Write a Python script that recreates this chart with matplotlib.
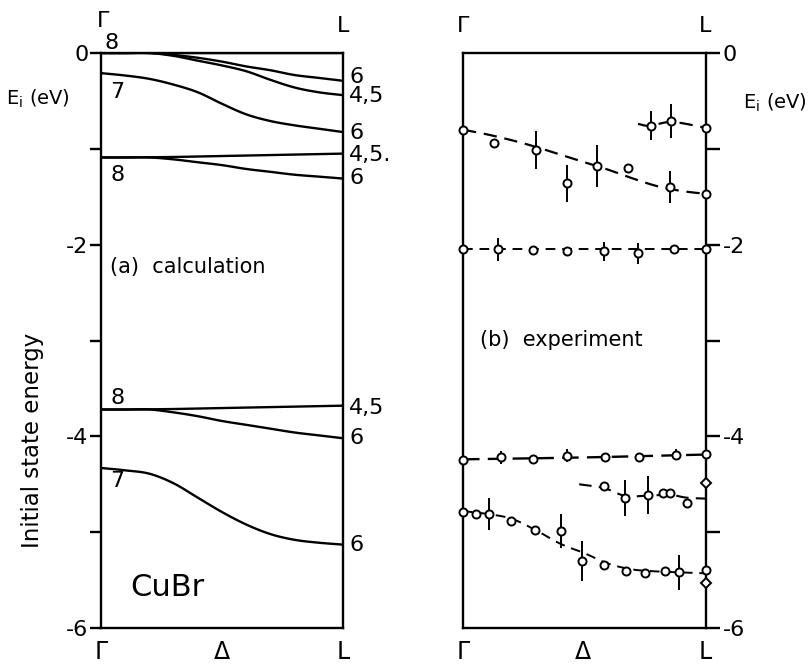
import matplotlib
matplotlib.use("Agg")
import matplotlib.pyplot as plt
import numpy as np

plt.rcParams['font.family'] = ['DejaVu Sans']
plt.rcParams['mathtext.fontset'] = 'dejavusans'

# ---------------- data ----------------
# (a) calculation: k along Gamma -> L (0..1), energies in eV
k_calc = [0.0, 0.1, 0.2, 0.3, 0.4, 0.5, 0.6, 0.7, 0.8, 0.9, 1.0]
band_top_flat = [0.0, 0.0, 0.0, 0.0, 0.0, 0.0, 0.0, 0.0, 0.0, 0.0, 0.0]
band_top_6 = [0.0, 0.0, 0.0, -0.02, -0.05, -0.09, -0.14, -0.18, -0.23, -0.26, -0.29]
band_top_45 = [0.0, 0.0, 0.0, -0.03, -0.08, -0.13, -0.19, -0.28, -0.36, -0.41, -0.44]
band_7_upper = [-0.21, -0.235, -0.27, -0.33, -0.41, -0.53, -0.64, -0.71, -0.755, -0.79, -0.825]
band_8b_45 = [-1.09, -1.09, -1.088, -1.085, -1.08, -1.075, -1.07, -1.065, -1.06, -1.055, -1.05]
band_8b_6 = [-1.09, -1.09, -1.09, -1.11, -1.14, -1.17, -1.21, -1.24, -1.27, -1.29, -1.31]
band_8c_45 = [-3.72, -3.72, -3.718, -3.715, -3.71, -3.705, -3.70, -3.695, -3.69, -3.685, -3.68]
band_8c_6 = [-3.72, -3.72, -3.72, -3.75, -3.79, -3.84, -3.88, -3.92, -3.96, -3.99, -4.02]
band_7_lower = [-4.33, -4.355, -4.39, -4.49, -4.64, -4.79, -4.92, -5.02, -5.08, -5.11, -5.13]
calc_bands = [band_top_flat, band_top_6, band_top_45, band_7_upper,
              band_8b_45, band_8b_6, band_8c_45, band_8c_6, band_7_lower]

# (b) experiment: measured points (k, E, vertical error)
s1_k = [0.774, 0.857, 1.0]
s1_E = [-0.76, -0.71, -0.78]
s1_err = [0.15, 0.18, 0.0]
s1_line_k = [0.72, 0.77, 0.86, 1.0]
s1_line_E = [-0.74, -0.76, -0.72, -0.78]

s2_k = [0.0, 0.129, 0.30, 0.43, 0.55, 0.68, 0.85, 1.0]
s2_E = [-0.80, -0.94, -1.01, -1.36, -1.18, -1.20, -1.40, -1.47]
s2_err = [0.0, 0.0, 0.20, 0.19, 0.22, 0.0, 0.17, 0.0]
s2_line_k = [0.0, 0.1, 0.2, 0.3, 0.4, 0.5, 0.6, 0.7, 0.8, 0.9, 1.0]
s2_line_E = [-0.80, -0.85, -0.91, -0.98, -1.06, -1.14, -1.22, -1.31, -1.39, -1.44, -1.47]

s3_k = [0.0, 0.145, 0.29, 0.43, 0.58, 0.72, 0.87, 1.0]
s3_E = [-2.05, -2.05, -2.06, -2.07, -2.07, -2.09, -2.05, -2.04]
s3_err = [0.0, 0.12, 0.0, 0.0, 0.10, 0.11, 0.0, 0.0]
s3_line_k = [0.0, 1.0]
s3_line_E = [-2.05, -2.05]

s4_k = [0.0, 0.158, 0.29, 0.426, 0.584, 0.725, 0.876, 1.0]
s4_E = [-4.25, -4.22, -4.235, -4.20, -4.22, -4.22, -4.19, -4.18]
s4_err = [0.0, 0.07, 0.0, 0.07, 0.0, 0.0, 0.06, 0.0]
s4_line_k = [0.0, 0.5, 1.0]
s4_line_E = [-4.24, -4.22, -4.19]

s5_k = [0.58, 0.666, 0.76, 0.825, 0.85, 0.92]
s5_E = [-4.52, -4.645, -4.61, -4.59, -4.59, -4.70]
s5_err = [0.0, 0.19, 0.20, 0.0, 0.0, 0.0]
s5_line_k = [0.478, 0.58, 0.666, 0.76, 0.85, 0.92, 1.0]
s5_line_E = [-4.50, -4.54, -4.62, -4.62, -4.61, -4.64, -4.65]

s6_k = [0.0, 0.055, 0.107, 0.196, 0.297, 0.405, 0.49, 0.58, 0.67, 0.75, 0.83, 0.89, 1.0]
s6_E = [-4.785, -4.81, -4.81, -4.88, -4.98, -4.99, -5.30, -5.34, -5.40, -5.43, -5.40, -5.42, -5.39]
s6_err = [0.0, 0.0, 0.17, 0.0, 0.0, 0.18, 0.21, 0.0, 0.0, 0.0, 0.0, 0.18, 0.0]
s6_line_k = [0.0, 0.1, 0.2, 0.3, 0.4, 0.5, 0.6, 0.7, 0.8, 0.9, 1.0]
s6_line_E = [-4.78, -4.81, -4.86, -4.98, -5.12, -5.22, -5.33, -5.39, -5.41, -5.42, -5.43]

diamond_k = [1.0, 1.0]
diamond_E = [-4.49, -5.53]

major_ticks = [0, -2, -4, -6]
major_labels = ['0', '-2', '-4', '-6']
minor_ticks = [-1, -3, -5]


def smooth(xs, ys, n=12):
    """Catmull-Rom rendering through the given points (drawing only)."""
    x = np.asarray(xs, float); y = np.asarray(ys, float)
    if len(x) < 3:
        return x, y
    px = np.concatenate([[2 * x[0] - x[1]], x, [2 * x[-1] - x[-2]]])
    py = np.concatenate([[2 * y[0] - y[1]], y, [2 * y[-1] - y[-2]]])
    ox, oy = [], []
    t = np.linspace(0, 1, n, endpoint=False)
    for i in range(1, len(px) - 2):
        for arr, out in ((px, ox), (py, oy)):
            p0, p1, p2, p3 = arr[i - 1], arr[i], arr[i + 1], arr[i + 2]
            out.extend(0.5 * ((2 * p1) + (-p0 + p2) * t +
                              (2 * p0 - 5 * p1 + 4 * p2 - p3) * t ** 2 +
                              (-p0 + 3 * p1 - 3 * p2 + p3) * t ** 3))
    ox.append(x[-1]); oy.append(y[-1])
    return np.array(ox), np.array(oy)


# ---------------- figure ----------------
W, H = 810, 664
fig = plt.figure(figsize=(W / 100, H / 100), dpi=100)

def ftxt(px, py, s, **kw):
    fig.text(px / W, 1 - py / H, s, **kw)

bottom = 1 - 628 / H
height = 575 / H
ax1 = fig.add_axes([101 / W, bottom, 242 / W, height])
ax2 = fig.add_axes([463 / W, bottom, 243 / W, height])

for ax in (ax1, ax2):
    ax.set_xlim(0, 1)
    ax.set_ylim(-6, 0)
    ax.set_xticks([])
    for sp in ax.spines.values():
        sp.set_linewidth(1.7)
    ax.set_yticks(major_ticks)
    ax.set_yticklabels(major_labels)
    ax.set_yticks(minor_ticks, minor=True)
    ax.tick_params(axis='y', which='both', direction='out', length=8, width=1.7,
                   labelsize=16, pad=1)

ax2.yaxis.tick_right()
ax2.tick_params(axis='y', which='both', length=10, pad=2)

# calculation bands
for band in calc_bands:
    sx, sy = smooth(k_calc, band)
    ax1.plot(sx, sy, color='black', lw=1.7, solid_capstyle='butt', clip_on=True)

# experiment
for lk, lE, lw, dsh in [(s1_line_k, s1_line_E, 1.6, (6, 3.5)), (s2_line_k, s2_line_E, 1.6, (6, 3.5)),
                        (s3_line_k, s3_line_E, 1.4, (5, 3.5)), (s4_line_k, s4_line_E, 1.7, (7, 3.5)),
                        (s5_line_k, s5_line_E, 1.5, (6, 3.5)), (s6_line_k, s6_line_E, 1.4, (5, 3.5))]:
    sx, sy = smooth(lk, lE)
    ax2.plot(sx, sy, color='black', lw=lw, linestyle=(0, dsh), clip_on=False)

for k, E, err in [(s1_k, s1_E, s1_err), (s2_k, s2_E, s2_err), (s3_k, s3_E, s3_err),
                  (s4_k, s4_E, s4_err), (s5_k, s5_E, s5_err), (s6_k, s6_E, s6_err)]:
    k = np.asarray(k); E = np.asarray(E); err = np.asarray(err)
    m = err > 0
    if m.any():
        ax2.errorbar(k[m], E[m], yerr=err[m], fmt='none', ecolor='black',
                     elinewidth=1.4, capsize=0, zorder=2, clip_on=False)
    ax2.plot(k, E, 'o', mfc='white', mec='black', ms=5.8, mew=1.4,
             zorder=4, clip_on=False)
ax2.plot(diamond_k, diamond_E, 'D', mfc='white', mec='black', ms=5.2, mew=1.4,
         zorder=4, clip_on=False)

# band labels (calculation)
lab_kw = dict(fontsize=16, ha='center', va='center')
ax1.text(0.045, 0.10, '8', **lab_kw)
ax1.text(0.068, -0.41, '7', **lab_kw)
ax1.text(0.068, -1.27, '8', **lab_kw)
ax1.text(0.068, -3.60, '8', **lab_kw)
ax1.text(0.068, -4.47, '7', **lab_kw)
rl_kw = dict(fontsize=16, ha='left', va='center', clip_on=False)
ax1.text(1.025, -0.25, '6', **rl_kw)
ax1.text(1.025, -0.45, '4,5', **rl_kw)
ax1.text(1.025, -0.83, '6', **rl_kw)
ax1.text(1.025, -1.06, '4,5.', **rl_kw)
ax1.text(1.025, -1.30, '6', **rl_kw)
ax1.text(1.025, -3.70, '4,5', **rl_kw)
ax1.text(1.025, -4.02, '6', **rl_kw)
ax1.text(1.025, -5.13, '6', **rl_kw)

ax1.text(0.037, -2.23, '(a)  calculation', fontsize=15, ha='left', va='center')
ax2.text(0.07, -2.99, '(b)  experiment', fontsize=15, ha='left', va='center')
ax1.text(0.12, -5.58, 'CuBr', fontsize=22, ha='left', va='center')

# symmetry point labels
sym_kw = dict(fontsize=16, ha='center', va='bottom')
ftxt(103, 31, 'Γ', **sym_kw)
ftxt(343, 36, 'L', **sym_kw)
ftxt(463, 36, 'Γ', **sym_kw)
ftxt(705, 36, 'L', **sym_kw)
bot_kw = dict(fontsize=17, ha='center', va='top')
ftxt(101, 640, 'Γ', **bot_kw)
ftxt(222, 640, 'Δ', **bot_kw)
ftxt(343, 640, 'L', **bot_kw)
ftxt(463, 640, 'Γ', **bot_kw)
ftxt(583, 640, 'Δ', **bot_kw)
ftxt(705, 640, 'L', **bot_kw)

ftxt(38, 99, 'E$_{\\mathregular{i}}$ (eV)', fontsize=14, ha='center', va='center')
ftxt(775, 103, 'E$_{\\mathregular{i}}$ (eV)', fontsize=14, ha='center', va='center')
ftxt(33, 440, 'Initial state energy', fontsize=16.5, rotation=90, ha='center', va='center')

fig.savefig('out.png', dpi=100)
